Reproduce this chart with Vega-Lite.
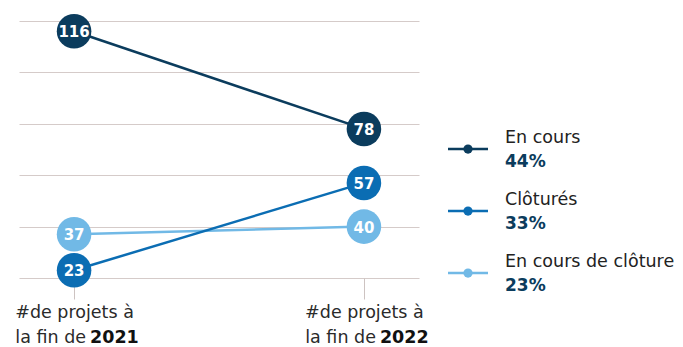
{
  "$schema": "https://vega.github.io/schema/vega-lite/v6.json",
  "background": "white",
  "padding": {"left": 14, "top": 13, "right": 0, "bottom": 0},
  "bounds": "flush",
  "spacing": 29,
  "config": {"view": {"stroke": null}, "font": "DejaVu Sans"},
  "datasets": {
    "main": [
      {"period": "2021", "category": "En cours de clôture", "value": 37},
      {"period": "2022", "category": "En cours de clôture", "value": 40},
      {"period": "2021", "category": "Clôturés", "value": 23},
      {"period": "2022", "category": "Clôturés", "value": 57},
      {"period": "2021", "category": "En cours", "value": 116},
      {"period": "2022", "category": "En cours", "value": 78}
    ],
    "periods": [{"period": "2021", "base": 20}, {"period": "2022", "base": 20}],
    "shares": [
      {"category": "En cours", "share": 0.44, "rank": 1},
      {"category": "Clôturés", "share": 0.33, "rank": 2},
      {"category": "En cours de clôture", "share": 0.23, "rank": 3}
    ]
  },
  "hconcat": [
    {
      "width": 400,
      "height": 257,
      "layer": [
        {
          "data": {"name": "main"},
          "mark": {"type": "line", "strokeWidth": 2.5},
          "encoding": {
            "x": {
              "field": "period", "type": "ordinal",
              "scale": {"type": "point", "padding": 0.19},
              "axis": {"title": null, "domain": false, "grid": false, "tickSize": 21, "tickColor": "#cdc3c1", "tickWidth": 1,
                       "labelExpr": "'#de projets à'", "labelFont": "DejaVu Sans", "labelFontSize": 17.5, "labelColor": "#2a2a2a", "labelPadding": 4, "labelAngle": 0}
            },
            "y": {
              "field": "value", "type": "quantitative",
              "scale": {"domain": [20, 120], "nice": false, "zero": false},
              "axis": {"title": null, "labels": false, "ticks": false, "domain": false, "grid": true, "gridColor": "#d5cbc9", "gridWidth": 1,
                       "values": [20, 40, 60, 80, 100, 120], "minExtent": 0, "maxExtent": 0}
            },
            "color": {"field": "category", "type": "nominal", "legend": null,
              "scale": {"domain": ["En cours", "Clôturés", "En cours de clôture"], "range": ["#0b3c5d", "#0b6db3", "#71b9e6"]}}
          }
        },
        {
          "data": {"name": "main"},
          "mark": {"type": "circle", "size": 1195, "opacity": 1},
          "encoding": {
            "x": {"field": "period", "type": "ordinal"},
            "y": {"field": "value", "type": "quantitative"},
            "color": {"field": "category", "type": "nominal", "legend": null}
          }
        },
        {
          "data": {"name": "main"},
          "mark": {"type": "text", "color": "white", "fontWeight": "bold", "fontSize": 15, "baseline": "middle", "dy": 1},
          "encoding": {
            "x": {"field": "period", "type": "ordinal"},
            "y": {"field": "value", "type": "quantitative"},
            "text": {"field": "value", "type": "quantitative"}
          }
        },
        {
          "data": {"name": "periods"},
          "mark": {"type": "text", "text": "la fin de", "align": "right", "baseline": "alphabetic", "dx": 12, "dy": 65, "fontSize": 17.5, "color": "#2a2a2a"},
          "encoding": {
            "x": {"field": "period", "type": "ordinal"},
            "y": {"field": "base", "type": "quantitative"}
          }
        },
        {
          "data": {"name": "periods"},
          "mark": {"type": "text", "align": "left", "baseline": "alphabetic", "dx": 16, "dy": 65, "fontSize": 17.5, "fontWeight": "bold", "color": "#111111"},
          "encoding": {
            "x": {"field": "period", "type": "ordinal"},
            "y": {"field": "base", "type": "quantitative"},
            "text": {"field": "period", "type": "nominal"}
          }
        }
      ]
    },
    {
      "width": 40,
      "height": 257,
      "data": {"name": "shares"},
      "encoding": {
        "y": {"field": "rank", "type": "quantitative", "scale": {"domain": [-1.065, 3.08], "reverse": true, "nice": false, "zero": false}, "axis": null}
      },
      "layer": [
        {
          "mark": {"type": "tick", "size": 40, "thickness": 2.5, "opacity": 1},
          "encoding": {"color": {"field": "category", "type": "nominal", "legend": null,
            "scale": {"domain": ["En cours", "Clôturés", "En cours de clôture"], "range": ["#0b3c5d", "#0b6db3", "#71b9e6"]}}}
        },
        {
          "mark": {"type": "circle", "size": 85, "opacity": 1},
          "encoding": {"color": {"field": "category", "type": "nominal", "legend": null}}
        },
        {
          "mark": {"type": "text", "align": "left", "baseline": "alphabetic", "dx": 37, "dy": -6, "fontSize": 17.5, "color": "#222222"},
          "encoding": {"text": {"field": "category", "type": "nominal"}}
        },
        {
          "mark": {"type": "text", "align": "left", "baseline": "alphabetic", "dx": 37, "dy": 18, "fontSize": 17, "fontWeight": "bold", "color": "#0b3c5d"},
          "encoding": {"text": {"field": "share", "type": "quantitative", "format": ".0%"}}
        }
      ]
    }
  ]
}
